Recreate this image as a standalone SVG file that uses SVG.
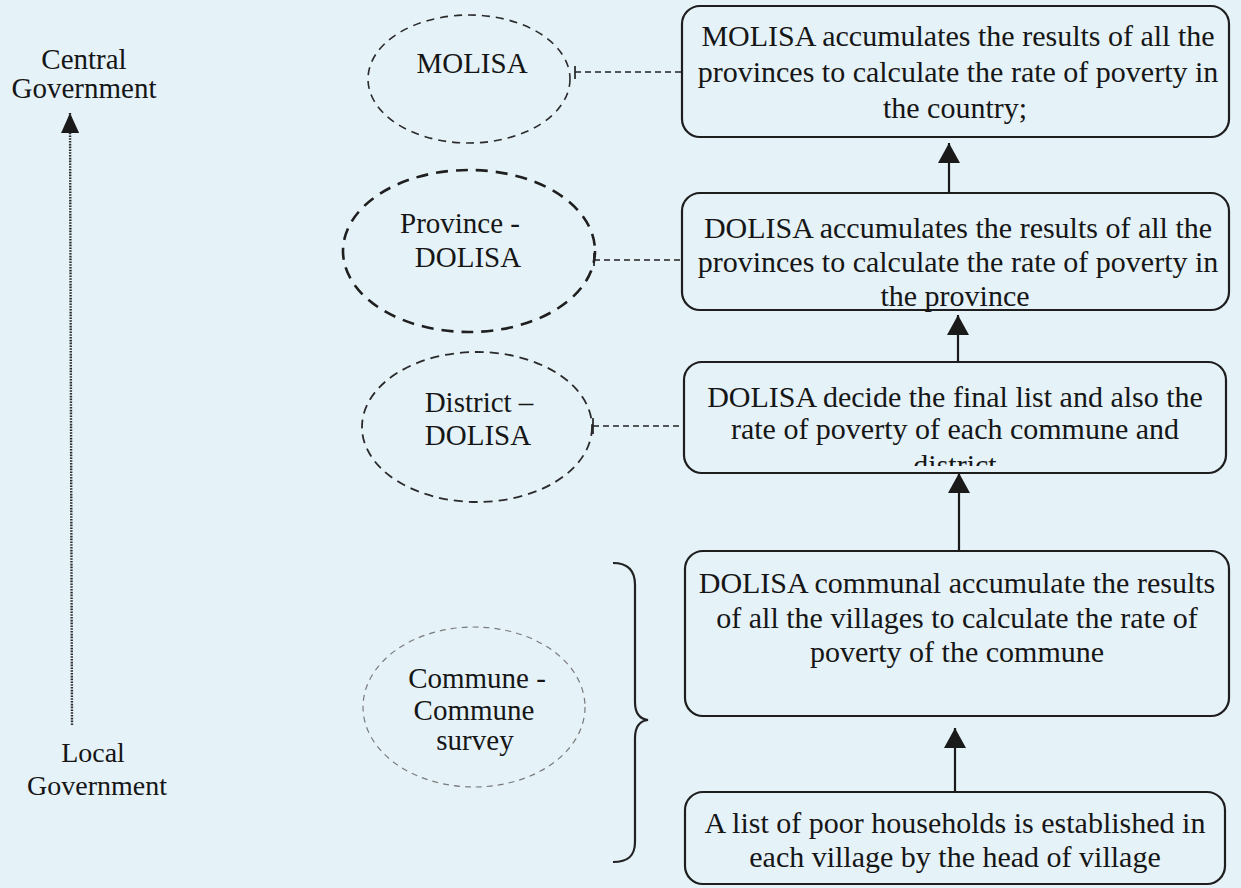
<svg xmlns="http://www.w3.org/2000/svg" width="1241" height="888" viewBox="0 0 1241 888">
  <style>
    text { font-family: "Liberation Serif", "Times New Roman", serif; fill: #161616; }
    .bt { font-size: 30px; text-anchor: middle; }
    .et { font-size: 29px; text-anchor: middle; }
    .lt { font-size: 28px; text-anchor: middle; }
    .box { fill: none; stroke: #1e1e1e; stroke-width: 2.2; }
    .arrow { stroke: #1a1a1a; stroke-width: 2.2; fill: none; marker-end: url(#ah); }
    .link { stroke: #222; stroke-width: 1.7; stroke-dasharray: 6 4; fill: none; }
    .tick { stroke: #222; stroke-width: 1.7; fill: none; }
  </style>
  <defs>
    <marker id="ah" viewBox="0 0 20 22" refX="20" refY="11" markerWidth="20" markerHeight="22" markerUnits="userSpaceOnUse" orient="auto">
      <path d="M0,0 L20,11 L0,22 Z" fill="#1a1a1a"/>
    </marker>
    <marker id="ahs" viewBox="0 0 20 18" refX="20" refY="9" markerWidth="20" markerHeight="18" markerUnits="userSpaceOnUse" orient="auto">
      <path d="M0,0 L20,9 L0,18 Z" fill="#1a1a1a"/>
    </marker>
    <clipPath id="clip3">
      <rect x="684" y="362" width="542" height="104"/>
    </clipPath>
  </defs>

  <rect width="1241" height="888" fill="#e5f2f8"/>

  <!-- Left axis -->
  <g id="axis">
    <text class="lt" x="84" y="69" style="font-size:29px">Central</text>
    <text class="lt" x="84" y="98" style="font-size:29px">Government</text>
    <line x1="72" y1="725" x2="70" y2="113" stroke="#2a2a2a" stroke-width="2.4" stroke-dasharray="1.6 1.2" marker-end="url(#ahs)"/>
    <text class="lt" x="93" y="762">Local</text>
    <text class="lt" x="97" y="795">Government</text>
  </g>

  <!-- Ellipses -->
  <g id="n-molisa">
    <ellipse cx="469" cy="79" rx="101" ry="64" fill="none" stroke="#2a2a2a" stroke-width="1.6" stroke-dasharray="8 6"/>
    <text class="et" x="472" y="73">MOLISA</text>
  </g>
  <g id="n-province">
    <ellipse cx="469" cy="251" rx="126" ry="81" fill="none" stroke="#1f1f1f" stroke-width="2.6" stroke-dasharray="12 8"/>
    <text class="et" x="460" y="233">Province -</text>
    <text class="et" x="468" y="267">DOLISA</text>
  </g>
  <g id="n-district">
    <ellipse cx="477" cy="427" rx="115" ry="75" fill="none" stroke="#2a2a2a" stroke-width="1.8" stroke-dasharray="9 6"/>
    <text class="et" x="479" y="412">District –</text>
    <text class="et" x="478" y="445">DOLISA</text>
  </g>
  <g id="n-commune">
    <ellipse cx="474" cy="707" rx="111" ry="80" fill="none" stroke="#7a7a7a" stroke-width="1.2" stroke-dasharray="6 5"/>
    <text class="et" x="477" y="688">Commune -</text>
    <text class="et" x="474" y="720">Commune</text>
    <text class="et" x="475" y="750">survey</text>
  </g>

  <!-- Boxes -->
  <g id="b-molisa">
    <rect class="box" x="682" y="6" width="547" height="131" rx="18"/>
    <text class="bt" x="958" y="46">MOLISA accumulates the results of all the</text>
    <text class="bt" x="958" y="82">provinces to calculate the rate of poverty in</text>
    <text class="bt" x="955" y="118">the country;</text>
  </g>
  <g id="b-province">
    <rect class="box" x="682" y="193" width="547" height="117" rx="18"/>
    <text class="bt" x="958" y="238">DOLISA accumulates the results of all the</text>
    <text class="bt" x="958" y="272">provinces to calculate the rate of poverty in</text>
    <text class="bt" x="955" y="306">the province</text>
  </g>
  <g id="b-district">
    <rect class="box" x="684" y="362" width="542" height="111" rx="18"/>
    <text class="bt" x="955" y="407">DOLISA decide the final list and also the</text>
    <text class="bt" x="955" y="439">rate of poverty of each commune and</text>
    <text class="bt" x="955" y="475" clip-path="url(#clip3)">district</text>
  </g>
  <g id="b-commune">
    <rect class="box" x="685" y="551" width="544" height="165" rx="18"/>
    <text class="bt" x="957" y="593">DOLISA communal accumulate the results</text>
    <text class="bt" x="957" y="628">of all the villages to calculate the rate of</text>
    <text class="bt" x="957" y="662">poverty of the commune</text>
  </g>
  <g id="b-village">
    <rect class="box" x="685" y="792" width="540" height="92" rx="18"/>
    <text class="bt" x="955" y="833">A list of poor households is established in</text>
    <text class="bt" x="955" y="867">each village by the head of village</text>
  </g>

  <!-- Connectors -->
  <g id="connectors">
    <line class="arrow" x1="949" y1="193" x2="949" y2="143"/>
    <line class="arrow" x1="958" y1="362" x2="958" y2="315"/>
    <line class="arrow" x1="959" y1="551" x2="959" y2="473"/>
    <line class="arrow" x1="955" y1="792" x2="955" y2="728"/>

    <line class="link" x1="575" y1="72" x2="682" y2="72"/>
    <line class="tick" x1="575" y1="66" x2="575" y2="79"/>
    <line class="link" x1="594" y1="260" x2="682" y2="260"/>
    <line class="tick" x1="594" y1="253" x2="594" y2="266"/>
    <line class="link" x1="593" y1="426" x2="684" y2="426"/>
    <line class="tick" x1="593" y1="418" x2="593" y2="434"/>

    <path d="M613,563 C628,563 635,570 635,585 L635,702 C635,713 640,719 648,720 C640,721 635,727 635,738 L635,842 C635,856 628,862 613,862" fill="none" stroke="#222" stroke-width="2.2"/>
  </g>
</svg>
